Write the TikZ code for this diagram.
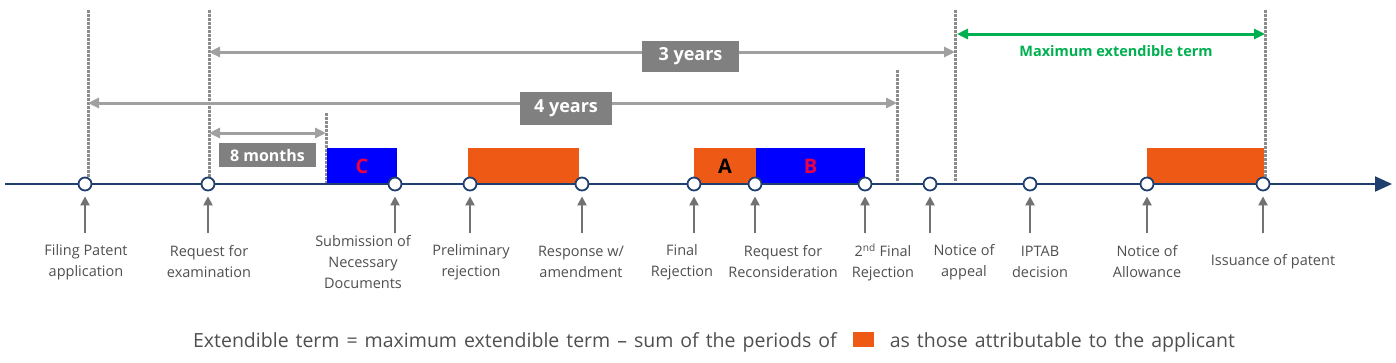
\documentclass[tikz,border=0pt]{standalone}
\usepackage{fontspec}
\setmainfont{Open Sans}
\newfontfamily\medfont{Open Sans}[Ligatures=TeX]
\usetikzlibrary{arrows.meta}
\definecolor{AxisBlue}{HTML}{1F3F6E}
\definecolor{PeriodOrange}{HTML}{EE5A16}
\definecolor{PeriodBlue}{HTML}{0000FF}
\definecolor{LetterRed}{HTML}{EE0040}
\definecolor{SpanGrey}{HTML}{A0A0A0}
\definecolor{GuideGrey}{HTML}{8C8C8C}
\definecolor{BoxGrey}{HTML}{808080}
\definecolor{TextGrey}{HTML}{4F4F4F}
\definecolor{TermGreen}{HTML}{00B050}

\begin{document}
\begin{tikzpicture}[
    x=1pt, y=-1pt,
    axis/.style={draw=AxisBlue, line width=2pt, -{Triangle[length=17pt,width=15pt]}},
    event/.style={circle, draw=AxisBlue, line width=1.8pt, fill=white, minimum size=13pt, inner sep=0pt},
    evlabel/.style={align=center, text=TextGrey, font=\medfont\fontsize{14.5}{21}\selectfont, inner sep=0pt},
    uparrow/.style={draw=TextGrey!80, line width=2.2pt, -{Triangle[length=9pt,width=9pt]}, shorten >=5pt},
    guide/.style={draw=GuideGrey, line width=3pt, dash pattern=on 2.5pt off 1.5pt},
    span/.style={draw=SpanGrey, line width=3pt, {Triangle[length=11pt,width=10pt]}-{Triangle[length=11pt,width=10pt]}},
    spanlabel/.style={fill=BoxGrey, text=white, font=\fontsize{18}{20}\selectfont\bfseries, inner sep=0pt},
    period/.style={minimum height=36pt, inner sep=0pt, font=\fontsize{20}{20}\selectfont\bfseries}
  ]
  \useasboundingbox (0,0) rectangle (1396,362);

  % guide lines
  \coordinate (g1t) at (88,10);    \coordinate (g1b) at (88,178);
  \coordinate (g2t) at (209,10);   \coordinate (g2b) at (209,178);
  \coordinate (g3t) at (326,113);  \coordinate (g3b) at (326,184);
  \coordinate (g4t) at (897,70);   \coordinate (g4b) at (897,182);
  \coordinate (g5t) at (955,10);   \coordinate (g5b) at (955,182);
  \coordinate (g6t) at (1265,10);  \coordinate (g6b) at (1265,180);
  \foreach \g in {1,...,6}
    \draw[guide] (g\g t) -- (g\g b);

  % periods
  \node[period, fill=PeriodBlue, text=LetterRed, minimum width=70pt] (pc) at (362,166) {C};
  \node[period, fill=PeriodOrange, minimum width=111pt] (pr) at (523.5,166) {};
  \node[period, fill=PeriodOrange, text=black, minimum width=62pt] (pa) at (725,166) {A};
  \node[period, fill=PeriodBlue, text=LetterRed, minimum width=109pt] (pb) at (810.5,166) {B};
  \node[period, fill=PeriodOrange, minimum width=117pt] (pi) at (1205.5,166) {};

  % time axis
  \coordinate (axstart) at (5,184);
  \coordinate (axend) at (1392,184);
  \draw[axis] (axstart) -- (axend);

  % events
  \foreach \x [count=\n] in {85,208,395,470,582,694,755,865,930,1030,1147,1263}
    \node[event] (e\n) at (\x,184) {};

  \foreach \n/\lx/\txt in {
      1/86/{Filing Patent\\application},
      2/209/{Request for\\examination},
      3/363/{Submission of\\Necessary\\Documents},
      4/471/{Preliminary\\rejection},
      5/581/{Response w/\\amendment},
      6/682/{Final\\Rejection},
      7/783/{Request for\\Reconsideration},
      8/883/{2\textsuperscript{nd} Final\\Rejection},
      9/964/{Notice of\\appeal},
      10/1040/{IPTAB\\decision},
      11/1147/{Notice of\\Allowance},
      12/1273/{Issuance of patent}} {
    \node[evlabel] (l\n) at (\lx,262) {\txt};
    \coordinate (u\n) at ([yshift=-49pt]e\n.center);
    \draw[uparrow] (u\n) -- (e\n);
  }

  % spans
  \coordinate (s3a) at (209,52);   \coordinate (s3b) at (955,52);
  \coordinate (s4a) at (88,103);   \coordinate (s4b) at (897,103);
  \coordinate (s8a) at (209,133);  \coordinate (s8b) at (326,133);
  \coordinate (sma) at (957,34);   \coordinate (smb) at (1265,34);
  \draw[span] (s3a) -- (s3b);
  \draw[span] (s4a) -- (s4b);
  \draw[span] (s8a) -- (s8b);
  \draw[span, draw=TermGreen] (sma) -- (smb);

  \node[spanlabel, minimum width=97pt, minimum height=31pt] (t3) at (690.5,56.5) {3 years};
  \node[spanlabel, minimum width=92pt, minimum height=33pt] (t4) at (566,108.5) {4 years};
  \node[spanlabel, minimum width=97pt, minimum height=24pt, font=\fontsize{16}{18}\selectfont\bfseries] (t8) at (267.5,155) {8 months};
  \node[text=TermGreen, font=\fontsize{14.5}{16}\selectfont\bfseries] (tm) at (1116,51) {Maximum extendible term};

  % formula
  \node[text=TextGrey, font=\medfont\fontsize{19.5}{22}\selectfont, inner sep=0pt] (formula) at (714,342)
    {\spaceskip=7pt plus 2pt Extendible term = maximum extendible term -- sum of the periods of\hspace{16pt}{\color{PeriodOrange}\rule{21pt}{15pt}}\hspace{16pt}as those attributable to the applicant};
\end{tikzpicture}
\end{document}
